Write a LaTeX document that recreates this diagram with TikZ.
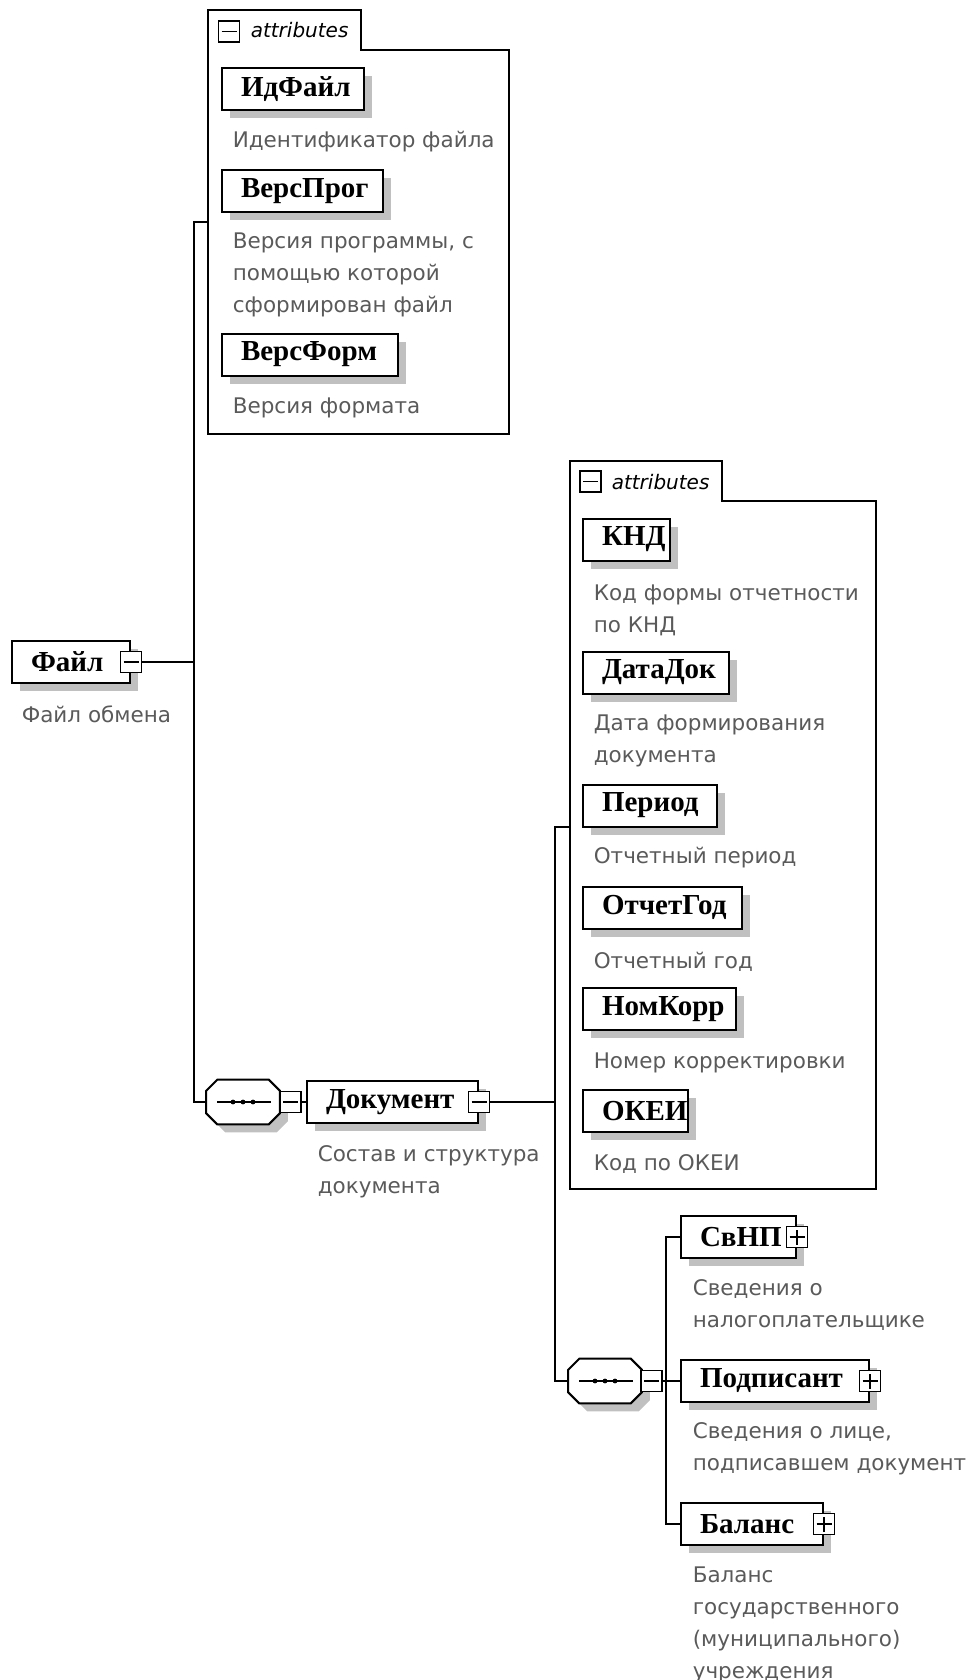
\documentclass[tikz,border=0pt]{standalone}
\usepackage{fontspec}
\setmainfont{DejaVu Sans}
\newfontfamily\elfont{Liberation Serif}
\usetikzlibrary{shadows}
\definecolor{desctext}{RGB}{90,90,90}
\definecolor{shadowgray}{RGB}{192,192,192}
\newcommand\seqoct[1]{%
  \fill[shadowgray, transform canvas={shift={(8pt,-8pt)}}] ([xshift=11pt]#1.north west) -- ([xshift=-11pt]#1.north east) -- ([yshift=-11pt]#1.north east) -- ([yshift=11pt]#1.south east) -- ([xshift=-11pt]#1.south east) -- ([xshift=11pt]#1.south west) -- ([yshift=11pt]#1.south west) -- ([yshift=-11pt]#1.north west) -- cycle;
  \filldraw[fill=white, line width=2pt] ([xshift=11pt]#1.north west) -- ([xshift=-11pt]#1.north east) -- ([yshift=-11pt]#1.north east) -- ([yshift=11pt]#1.south east) -- ([xshift=-11pt]#1.south east) -- ([xshift=11pt]#1.south west) -- ([yshift=11pt]#1.south west) -- ([yshift=-11pt]#1.north west) -- cycle;
  \draw[line width=1.5pt] ([xshift=11pt]#1.west) -- ([xshift=-9pt]#1.east);
  \foreach \dx in {-10,0,10} \fill ([xshift=\dx pt]#1.center) circle (2.4pt);}

\begin{document}
\begin{tikzpicture}[x=1pt, y=-1pt, line width=1.6pt,
  el/.style = {draw, fill=white, line width=2pt, anchor=west, minimum height=42pt, inner xsep=19pt, inner ysep=0pt, align=left,
    font=\elfont\fontsize{29}{34}\selectfont\bfseries,
    drop shadow={shadow xshift=8pt, shadow yshift=-8pt, fill=shadowgray, opacity=1}},
  dsc/.style = {anchor=base west, inner sep=0pt, align=left, text=desctext, font=\fontsize{21.5}{32}\selectfont},
  hdr/.style = {anchor=base west, inner sep=0pt, font=\fontsize{20}{24}\selectfont\itshape},
  grp/.style = {line width=1.8pt},
  mbox/.style = {draw, fill=white, line width=1.5pt, minimum size=21pt, inner sep=0pt,
    path picture={\draw[line width=1.5pt] ([xshift=3pt]path picture bounding box.west) -- ([xshift=-3pt]path picture bounding box.east);}},
  pbox/.style = {draw, fill=white, line width=1.5pt, minimum size=21pt, inner sep=0pt,
    path picture={\draw[line width=1.5pt] ([xshift=3pt]path picture bounding box.west) -- ([xshift=-3pt]path picture bounding box.east);
      \draw[line width=1.5pt] ([yshift=3pt]path picture bounding box.south) -- ([yshift=-3pt]path picture bounding box.north);}},
  seq/.style = {minimum width=72pt, minimum height=43pt, inner sep=0pt}]
\useasboundingbox (0,0) rectangle (975,1680);

\node[el, text width=80pt] (e1) at (11,662) {Файл};
\node[mbox] (m1) at (e1.east) {};
\node[dsc] (d1) at (21,722) {Файл обмена};

\draw[grp] (208,434) -- (208,10) -- (361,10) -- (361,50) -- (509,50) -- (509,434) -- cycle;
\node[mbox] (h1) at (229,31.5) {};
\node[hdr] (k1) at (250,38) {attributes};
\node[el, text width=104pt] (a1) at (221,89) {ИдФайл};
\node[dsc] (t1) at (232,148) {Идентификатор файла};
\node[el, text width=123pt] (a2) at (221,191) {ВерсПрог};
\node[dsc] (t2) at (232,312) {Версия программы, с\\помощью которой\\сформирован файл};
\node[el, text width=138pt] (a3) at (221,354.5) {ВерсФорм};
\node[dsc] (t3) at (232,413) {Версия формата};

\node[seq] (s1) at (243,1102) {};
\seqoct{s1}
\node[mbox] (q1) at (290.5,1102) {};
\node[el, text width=133pt] (e2) at (306,1102) {Документ};
\node[mbox] (m2) at (e2.east) {};
\node[dsc] (d2) at (317,1193) {Состав и структура\\документа};

\draw[grp] (570,1189) -- (570,461) -- (722,461) -- (722,501) -- (876,501) -- (876,1189) -- cycle;
\node[mbox] (h2) at (590.5,481.5) {};
\node[hdr] (k2) at (611,489) {attributes};
\node[el, text width=49pt] (a4) at (582,539.5) {КНД};
\node[dsc] (t4) at (593,632) {Код формы отчетности\\по КНД};
\node[el, text width=108pt] (a5) at (582,672.5) {ДатаДок};
\node[dsc] (t5) at (593,762) {Дата формирования\\документа};
\node[el, text width=96pt] (a6) at (582,805.5) {Период};
\node[dsc] (t6) at (593,863) {Отчетный период};
\node[el, text width=121pt] (a7) at (582,907.5) {ОтчетГод};
\node[dsc] (t7) at (593,968) {Отчетный год};
\node[el, text width=115pt] (a8) at (582,1009) {НомКорр};
\node[dsc] (t8) at (593,1068) {Номер корректировки};
\node[el, text width=67pt] (a9) at (582,1111) {ОКЕИ};
\node[dsc] (t9) at (593,1170) {Код по ОКЕИ};

\node[seq] (s2) at (605,1381) {};
\seqoct{s2}
\node[mbox] (q2) at (651.5,1381) {};
\node[el, text width=77pt] (e3) at (680,1237) {СвНП};
\node[pbox] (p3) at (e3.east) {};
\node[dsc] (d3) at (692,1327) {Сведения о\\налогоплательщике};
\node[el, text width=150pt] (e4) at (680,1381) {Подписант};
\node[pbox] (p4) at (e4.east) {};
\node[dsc] (d4) at (692,1470) {Сведения о лице,\\подписавшем документ};
\node[el, text width=104pt] (e5) at (680,1524) {Баланс};
\node[pbox] (p5) at (e5.east) {};
\node[dsc] (d5) at (692,1678) {Баланс\\государственного\\(муниципального)\\учреждения};

\coordinate (c1) at (208,222);
\coordinate (j1) at (194,662);
\coordinate (c2) at (570,827);
\coordinate (j2) at (555,1102);
\coordinate (j3) at (666,1381);
\draw (m1.east) -- (j1);
\draw (c1) -| (j1) |- (s1.west);
\draw (s1.east) -- (q1.west);
\draw (q1.east) -- (e2.west);
\draw (m2.east) -- (j2);
\draw (c2) -| (j2) |- (s2.west);
\draw (s2.east) -- (q2.west);
\draw (q2.east) -- (e4.west);
\draw (e3.west) -| (j3) |- (e5.west);
\end{tikzpicture}
\end{document}
